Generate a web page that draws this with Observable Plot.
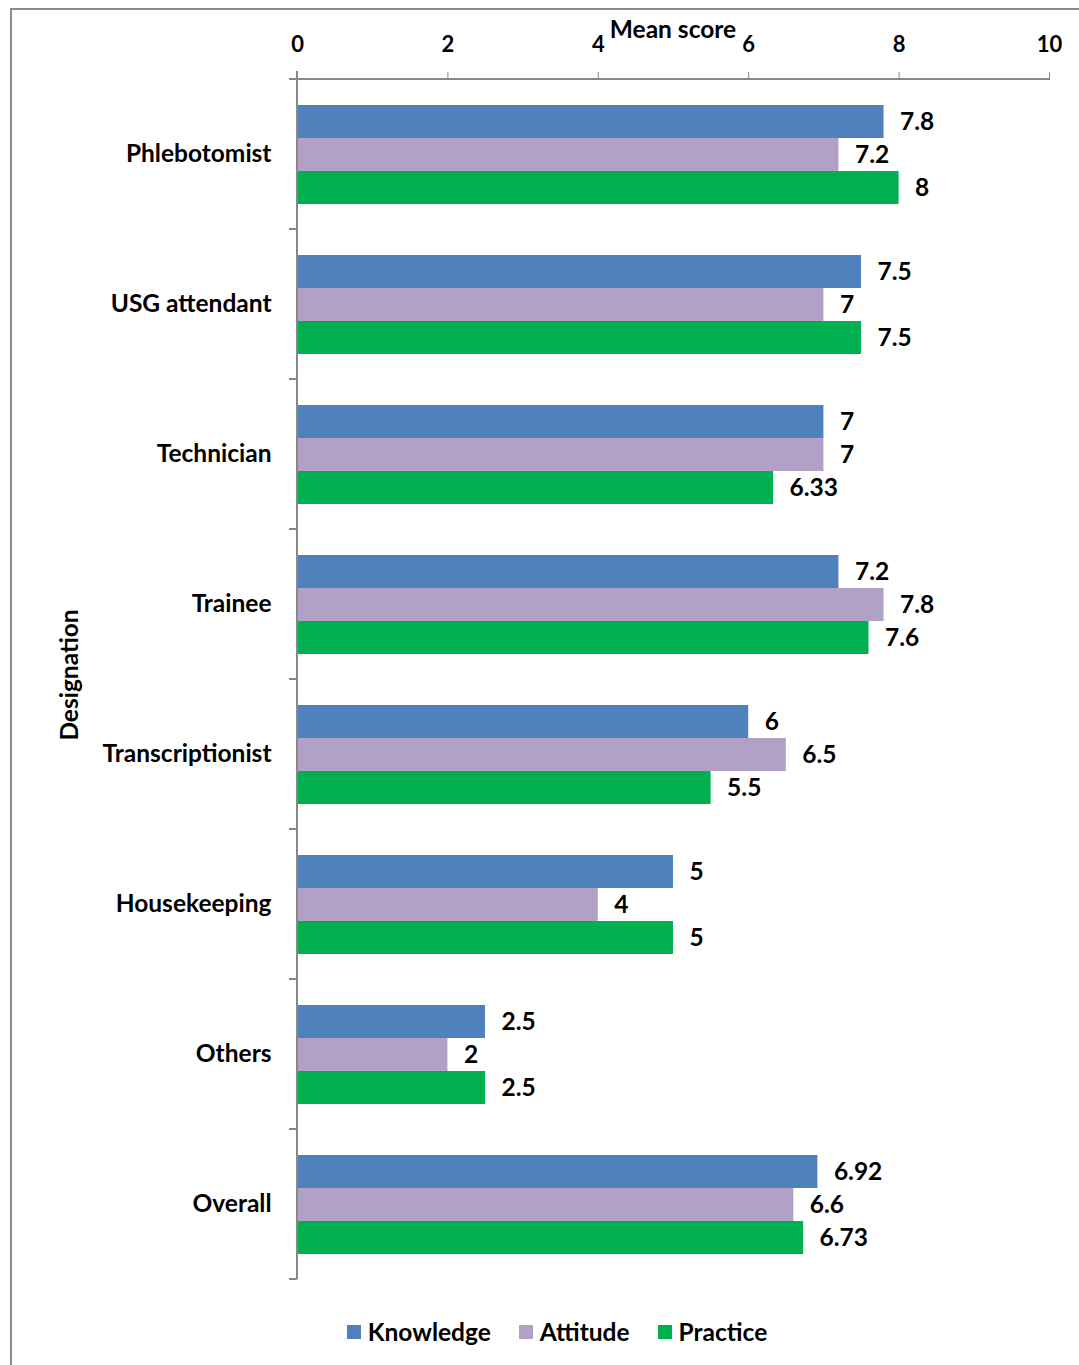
<!DOCTYPE html>
<html>
<head>
<meta charset="utf-8">
<script src="https://cdn.jsdelivr.net/npm/d3@7"></script>
<script src="https://cdn.jsdelivr.net/npm/@observablehq/plot@0.6"></script>
<style>
  html, body { margin: 0; padding: 0; background: #fff; }
  body { width: 1079px; height: 1365px; position: relative; overflow: hidden; font-family: Lato, "Open Sans", sans-serif; }
  #frame { position: absolute; left: 10px; top: 8px; width: 1100px; height: 1400px; border: 2px solid #8c8c8c; box-sizing: border-box; }
  #chart { position: absolute; left: 0; top: 0; }
  #xtitle { position: absolute; left: 0; width: 1346px; top: 14px; text-align: center; font-size: 24.5px; font-weight: bold; color: #000; }
  #ytitle { position: absolute; left: 68px; top: 675px; transform: translate(-50%, -50%) rotate(-90deg); font-size: 24.5px; font-weight: bold; white-space: nowrap; }
  #legend { position: absolute; top: 1317px; left: 0; width: 1114px; display: flex; justify-content: center; gap: 28px; font-size: 24.5px; font-weight: bold; }
  #legend .item { display: flex; align-items: center; gap: 7px; }
  #legend .sw { width: 14px; height: 14px; display: inline-block; }
</style>
</head>
<body>
<div id="frame"></div>
<div id="chart"></div>
<div id="xtitle">Mean score</div>
<div id="ytitle">Designation</div>
<div id="legend"></div>
<script>
const categories = ["Phlebotomist", "USG attendant", "Technician", "Trainee", "Transcriptionist", "Housekeeping", "Others", "Overall"];
const series = ["Knowledge", "Attitude", "Practice"];
const knowledge = [7.8, 7.5, 7, 7.2, 6, 5, 2.5, 6.92];
const attitude  = [7.2, 7, 7, 7.8, 6.5, 4, 2, 6.6];
const practice  = [8, 7.5, 6.33, 7.6, 5.5, 5, 2.5, 6.73];
const colors = ["#4F81BD", "#B2A1C7", "#00B050"];
const xTicks = [0, 2, 4, 6, 8, 10];

const values = [knowledge, attitude, practice];
const data = [];
categories.forEach((c, i) => series.forEach((s, j) => data.push({cat: c, series: s, value: values[j][i]})));

(function () {
const W = 1079, H = 1300;
const chart = Plot.plot({
  width: W, height: H,
  marginLeft: 297, marginRight: 30, marginTop: 77, marginBottom: 19,
  style: {fontFamily: "Lato, 'Open Sans', sans-serif", background: "transparent"},
  x: {domain: [0, 10]},
  y: {domain: series, paddingInner: 0, paddingOuter: 0.75},
  fy: {domain: categories, padding: 0},
  color: {domain: series, range: colors},
  marks: [
    Plot.barX(data, {fy: "cat", y: "series", x: "value", fill: "series"}),
    Plot.text(data, {fy: "cat", y: "series", x: "value", text: d => String(d.value), textAnchor: "start", dx: 16, fontSize: 24.5, fontWeight: "bold", fill: "#000"}),
    Plot.axisX({anchor: "top", ticks: xTicks, tickSize: 8, tickPadding: 20, fontSize: 22, fontWeight: "bold", stroke: "#888", fill: "#000", label: null}),
    Plot.axisFy({anchor: "left", tickSize: 0, tickPadding: 26, fontSize: 24.5, fontWeight: "bold", fill: "#000", label: null}),
    Plot.axisY({ticks: [], label: null})
  ]
});
document.getElementById("chart").appendChild(chart);

// axis lines and category boundary ticks from the plot's scales
const xs = chart.scale("x"), fys = chart.scale("fy");
const x0 = xs.apply(0), x10 = xs.apply(10);
const yTop = fys.apply(categories[0]);
const yBottom = fys.apply(categories[categories.length - 1]) + fys.bandwidth;
const g = d3.select(chart).append("g").attr("stroke", "#888").attr("stroke-width", 2).attr("fill", "none");
g.append("line").attr("x1", x0).attr("x2", x10).attr("y1", yTop).attr("y2", yTop);
g.append("line").attr("x1", x0).attr("x2", x0).attr("y1", yTop - 8).attr("y2", yBottom);
const bounds = categories.map(c => fys.apply(c)).concat([yBottom]);
g.selectAll(".bt").data(bounds).join("line").attr("x1", x0 - 8).attr("x2", x0).attr("y1", d => d).attr("y2", d => d);

// legend
const leg = d3.select("#legend");
series.forEach((s, i) => {
  const it = leg.append("div").attr("class", "item");
  it.append("span").attr("class", "sw").style("background", colors[i]);
  it.append("span").text(s);
});
})();
</script>
</body>
</html>
